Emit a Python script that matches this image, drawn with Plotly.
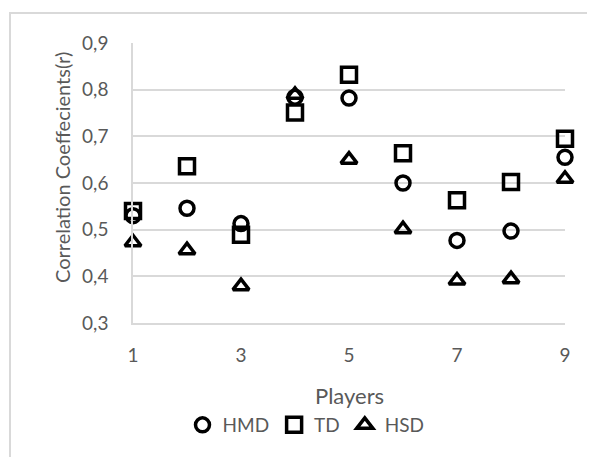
import plotly.graph_objects as go

players = [1, 2, 3, 4, 5, 6, 7, 8, 9]
hmd = [0.53, 0.546, 0.513, 0.784, 0.782, 0.60, 0.477, 0.497, 0.655]
td = [0.54, 0.636, 0.489, 0.751, 0.832, 0.664, 0.563, 0.602, 0.695]
hsd = [0.473, 0.456, 0.379, 0.789, 0.650, 0.501, 0.391, 0.394, 0.609]
x_ticks = [1, 3, 5, 7, 9]
y_ticks = [0.3, 0.4, 0.5, 0.6, 0.7, 0.8, 0.9]
y_tick_labels = ["0,3", "0,4", "0,5", "0,6", "0,7", "0,8", "0,9"]

FONT = "Lato"
GRAY = "#595959"
OFF = 8  # page body margin

fig = go.Figure()
series = [("HMD", hmd, "circle-open", 14), ("TD", td, "square-open", 15), ("HSD", hsd, "triangle-up-open", 14)]
for name, vals, sym, sz in series:
    fig.add_trace(go.Scatter(
        x=players, y=vals, mode="markers", name=name, cliponaxis=False,
        marker=dict(symbol=sym, size=sz, color="black", line=dict(width=3.5, color="black")),
    ))

W, H = 595, 457
L, T = 133 - OFF, 43 - OFF
pw, ph = 432, 280
R, B = W - L - pw, H - T - ph


def px(xp):
    return (xp - OFF - L) / pw


def py(yp):
    return ((T + ph) - (yp - OFF)) / ph


fig.update_layout(
    width=W, height=H,
    margin=dict(l=L, r=R, t=T, b=B, autoexpand=False),
    paper_bgcolor="white", plot_bgcolor="white",
    font=dict(family=FONT, color=GRAY, size=19),
    showlegend=True,
    legend=dict(orientation="h", x=px(306), xanchor="center", y=py(425), yanchor="middle",
                font=dict(size=19, color=GRAY, family=FONT), itemwidth=30, tracegroupgap=0,
                bgcolor="rgba(0,0,0,0)"),
    xaxis=dict(range=[1, 9], tickvals=x_ticks, showgrid=False, zeroline=False,
               showline=True, linecolor="#d9d9d9", linewidth=1.5, ticks="",
               ticklabelstandoff=14, tickfont=dict(size=19, color=GRAY, family=FONT)),
    yaxis=dict(range=[0.3, 0.9], tickvals=y_ticks, ticktext=y_tick_labels,
               showgrid=True, gridcolor="#d9d9d9", gridwidth=1.5, zeroline=False,
               showline=True, linecolor="#d9d9d9", linewidth=1.5, ticks="",
               ticklabelstandoff=19, tickfont=dict(size=19, color=GRAY, family=FONT)),
)

fig.add_annotation(text="Players", xref="paper", yref="paper",
                   x=px(349), y=py(395), showarrow=False,
                   xanchor="center", yanchor="middle", font=dict(size=22, color=GRAY, family=FONT))
fig.add_annotation(text="Correlation Coeffecients(r)", xref="paper", yref="paper",
                   x=px(62), y=py(168), showarrow=False, textangle=-90,
                   xanchor="center", yanchor="middle", font=dict(size=20, color=GRAY, family=FONT))

fig.add_shape(type="rect", xref="paper", yref="paper",
              x0=px(10), x1=px(612), y0=py(475), y1=py(13),
              line=dict(color="#d9d9d9", width=2), fillcolor="rgba(0,0,0,0)", layer="below")

fig.write_html("out.html")
